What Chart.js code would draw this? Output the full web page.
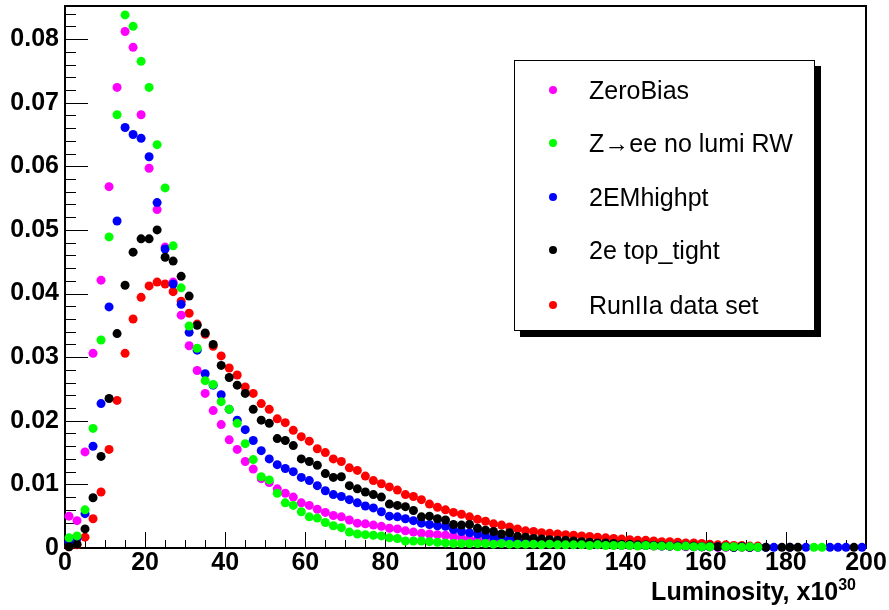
<!DOCTYPE html>
<html>
<head>
<meta charset="utf-8">
<script src="https://cdn.jsdelivr.net/npm/chart.js@4.4.1/dist/chart.umd.min.js"></script>
<style>
  body { margin: 0; background: #fff; }
  #wrap { position: relative; width: 889px; height: 610px; font-family: "Liberation Sans", Arial, sans-serif; }
  #legend { position: absolute; left: 514px; top: 60px; width: 299px; height: 269px; border: 1px solid #000; background: #fff; box-shadow: 6px 6px 0 #000; }
  .row { position: absolute; left: 0; height: 30px; line-height: 30px; font-size: 25px; color: #000; white-space: nowrap; }
  .row .dot { position: absolute; left: 34px; top: 11px; width: 8px; height: 8px; border-radius: 50%; }
  .row .txt { position: absolute; left: 74px; top: 0; }
  #xtitle { position: absolute; right: 33px; top: 579px; font-size: 25px; line-height: 25px; font-weight: bold; white-space: nowrap; }
  #xtitle span { font-size: 16px; position: relative; top: -10px; }
</style>
</head>
<body>
<div id="wrap">
  <canvas id="ctx" width="889" height="610"></canvas>
  <div id="legend"></div>
  <div id="xtitle">Luminosity, x10<span>30</span></div>
</div>
<script>

// bin centres (bins of width 2 from 0 to 200)
var binCenters = [1,3,5,7,9,11,13,15,17,19,21,23,25,27,29,31,33,35,37,39,
  41,43,45,47,49,51,53,55,57,59,61,63,65,67,69,71,73,75,77,79,
  81,83,85,87,89,91,93,95,97,99,101,103,105,107,109,111,113,115,117,119,
  121,123,125,127,129,131,133,135,137,139,141,143,145,147,149,151,153,155,157,159,
  161,163,165,167,169,171,173,175,177,179,181,183,185,187,189,191,193,195,197,199];

var zeroBias = [0.0050,0.0043,0.0151,0.0306,0.0421,0.0568,0.0724,0.0812,0.0787,0.0681,
  0.0597,0.0532,0.0473,0.0418,0.0366,0.0318,0.0279,0.0243,0.0216,0.0194,
  0.0170,0.0155,0.0136,0.0124,0.0109,0.0103,0.0093,0.0086,0.0080,0.0071,
  0.0067,0.0061,0.0056,0.0051,0.0049,0.0044,0.0039,0.0038,0.0036,0.0034,
  0.0031,0.0030,0.0027,0.0025,0.0023,0.0022,0.0021,0.0020,0.0018,0.0016,
  0.0014,0.0012,0.0011,0.0010,0.0009,0.0009,0.0008,0.0008,0.0007,0.0007,
  0.0007,0.0007,0.0006,0.0006,0.0006,0.0005,0.0005,0.0005,0.0005,0.0004,
  0.0004,0.0004,0.0004,0.0003,0.0003,0.0003,0.0003,0.0002,0.0002,0.0002,
  0.0002,0.0001,0.0001,0.0001,0.0001,0.0001,null,null,null,null,
  null,null,null,null,null,null,null,null,null,null];

var zee = [0.0016,0.0019,0.0060,0.0188,0.0327,0.0489,0.0681,0.0838,0.0820,0.0765,
  0.0724,0.0634,0.0566,0.0475,0.0409,0.0349,0.0314,0.0263,0.0257,0.0230,
  0.0218,0.0196,0.0164,0.0139,0.0112,0.0107,0.0086,0.0071,0.0067,0.0057,
  0.0049,0.0047,0.0040,0.0035,0.0032,0.0025,0.0022,0.0021,0.0020,0.0019,
  0.0016,0.0015,0.0011,0.0011,0.0011,0.0010,0.0009,0.0008,0.0007,0.0007,
  0.0007,0.0007,0.0007,0.0006,0.0007,0.0006,0.0006,0.0006,0.0006,0.0005,
  0.0006,0.0005,0.0005,0.0005,0.0005,0.0004,0.0005,0.0004,0.0004,0.0004,
  0.0004,0.0003,0.0004,0.0003,0.0003,0.0003,0.0002,0.0003,0.0002,0.0002,
  0.0002,null,0.0002,0.0002,0.0001,0.0002,0.0001,null,null,null,
  null,null,null,0.0001,0.0001,null,null,null,null,null];

var em2High = [0.0010,0.0015,0.0054,0.0160,0.0227,0.0379,0.0514,0.0661,0.0650,0.0644,
  0.0615,0.0543,0.0470,0.0415,0.0383,0.0339,0.0311,0.0274,0.0256,0.0241,
  0.0218,0.0201,0.0186,0.0169,0.0153,0.0140,0.0131,0.0125,0.0120,0.0111,
  0.0106,0.0098,0.0090,0.0084,0.0081,0.0076,0.0071,0.0066,0.0063,0.0057,
  0.0050,0.0049,0.0046,0.0043,0.0039,0.0037,0.0035,0.0034,0.0029,0.0026,
  0.0024,0.0022,0.0019,0.0017,0.0015,0.0014,0.0013,0.0012,0.0011,0.0010,
  0.0010,0.0009,0.0009,0.0008,0.0008,0.0007,0.0007,0.0006,0.0006,0.0005,
  0.0005,0.0004,0.0004,0.0004,0.0003,0.0003,0.0003,0.0003,0.0002,0.0002,
  0.0002,0.0002,0.0002,0.0001,0.0002,0.0001,0.0001,0.0001,0.0001,null,
  0.0001,null,0.0001,null,null,0.0001,0.0001,0.0001,null,0.0001];

var topTight = [0.0002,0.0006,0.0030,0.0079,0.0144,0.0235,0.0337,0.0413,0.0465,0.0486,
  0.0486,0.0500,0.0457,0.0451,0.0427,0.0396,0.0350,0.0338,0.0320,0.0287,
  0.0268,0.0256,0.0243,0.0218,0.0201,0.0196,0.0172,0.0169,0.0161,0.0140,
  0.0136,0.0130,0.0117,0.0111,0.0112,0.0098,0.0093,0.0088,0.0084,0.0080,
  0.0069,0.0067,0.0065,0.0059,0.0049,0.0050,0.0046,0.0044,0.0037,0.0036,
  0.0037,0.0031,0.0028,0.0026,0.0022,0.0024,0.0018,0.0017,0.0015,0.0014,
  0.0013,0.0012,0.0012,0.0011,0.0010,0.0009,0.0008,0.0008,0.0007,0.0006,
  0.0006,0.0005,0.0005,0.0004,0.0004,0.0003,0.0003,0.0003,0.0003,0.0002,
  0.0003,0.0002,0.0002,0.0001,0.0002,0.0001,null,0.0001,null,0.0001,
  0.0001,0.0001,null,null,null,null,null,null,0.0001,null];

var run2a = [0.0002,0.0005,0.0017,0.0046,0.0088,0.0155,0.0232,0.0306,0.0360,0.0394,
  0.0412,0.0418,0.0415,0.0403,0.0388,0.0369,0.0352,0.0336,0.0317,0.0302,
  0.0283,0.0272,0.0253,0.0243,0.0227,0.0218,0.0203,0.0197,0.0185,0.0175,
  0.0168,0.0156,0.0150,0.0140,0.0136,0.0126,0.0122,0.0113,0.0106,0.0101,
  0.0096,0.0091,0.0084,0.0081,0.0076,0.0069,0.0064,0.0060,0.0056,0.0053,
  0.0049,0.0045,0.0042,0.0038,0.0036,0.0033,0.0030,0.0027,0.0026,0.0024,
  0.0023,0.0022,0.0021,0.0020,0.0019,0.0018,0.0017,0.0016,0.0015,0.0014,
  0.0013,0.0012,0.0012,0.0011,0.0010,0.0010,0.0009,0.0008,0.0008,0.0007,
  0.0006,0.0005,0.0005,0.0004,0.0004,0.0003,0.0003,null,null,null,
  null,null,null,null,null,null,null,null,null,null];

var seriesNames  = ['ZeroBias', 'Z\u2192ee no lumi RW', '2EMhighpt', '2e top_tight', 'RunIIa data set'];
var seriesColors = ['#ff00ff', '#00ff00', '#0000ff', '#000000', '#ff0000'];
var seriesValues = [zeroBias, zee, em2High, topTight, run2a];
// which one ends up on top: lower = drawn later
var drawOrder    = [4, 1, 3, 2, 5];

function toPoints(vals){
  var pts = [];
  for (var i = 0; i < binCenters.length; i++){
    if (vals[i] !== null) pts.push({x: binCenters[i], y: vals[i]});
  }
  return pts;
}

var datasets = [];
for (var s = 0; s < seriesNames.length; s++){
  datasets.push({
    label: seriesNames[s],
    data: toPoints(seriesValues[s]),
    backgroundColor: seriesColors[s],
    borderColor: seriesColors[s],
    pointRadius: 4.5,
    pointBorderWidth: 0,
    pointHoverRadius: 4.5,
    showLine: false,
    clip: false,
    order: drawOrder[s]
  });
}

// legend box, ROOT style
var legendTops = [75, 128, 182, 235, 290];
for (var s = 0; s < seriesNames.length; s++){
  var row = document.createElement('div');
  row.className = 'row';
  row.style.top = (legendTops[s] - 60 - 1) + 'px';
  row.innerHTML = '<div class="dot" style="background:' + seriesColors[s] + '"></div><div class="txt">' + seriesNames[s] + '</div>';
  document.getElementById('legend').appendChild(row);
}

// frame + inward ticks
var rootFrame = {
  id: 'rootFrame',
  beforeDatasetsDraw: function(chart){
    var ctx = chart.ctx, a = chart.chartArea;
    var xs = chart.scales.x, ys = chart.scales.y;
    ctx.save();
    ctx.strokeStyle = '#000';
    ctx.lineWidth = 2;
    ctx.strokeRect(a.left, a.top, a.right - a.left, a.bottom - a.top);
    ctx.lineWidth = 1;
    ctx.beginPath();
    xs.ticks.forEach(function(t){
      var px = Math.round(xs.getPixelForValue(t.value)) + 0.5;
      var len = t.label ? 16 : 8;
      ctx.moveTo(px, a.bottom);
      ctx.lineTo(px, a.bottom - len);
    });
    ys.ticks.forEach(function(t){
      var py = Math.round(ys.getPixelForValue(t.value)) + 0.5;
      var len = t.label ? 23 : 11;
      ctx.moveTo(a.left, py);
      ctx.lineTo(a.left + len, py);
    });
    ctx.stroke();
    ctx.restore();
  }
};

var tickFont = {family: 'Liberation Sans', size: 25, weight: 'bold'};

var lumiChart = new Chart(document.getElementById('ctx'), {
  type: 'scatter',
  data: { datasets: datasets },
  options: {
    responsive: false,
    animation: false,
    layout: { padding: { top: 6, right: 23, left: 0, bottom: 0 } },
    plugins: { legend: { display: false }, tooltip: { enabled: false } },
    scales: {
      x: {
        type: 'linear', min: 0, max: 200,
        grid: { display: false, drawTicks: false },
        border: { display: false },
        ticks: {
          stepSize: 5, autoSkip: false, maxTicksLimit: 1000, includeBounds: false,
          maxRotation: 0, padding: 0, color: '#000', font: tickFont,
          callback: function(v){ return (v % 20 === 0) ? String(v) : ''; }
        },
        afterFit: function(scale){
          scale.height = 62;
          scale.paddingLeft = 0; scale.paddingRight = 0;
        }
      },
      y: {
        type: 'linear', min: 0, max: 0.0852,
        grid: { display: false, drawTicks: false },
        border: { display: false },
        ticks: {
          stepSize: 0.002, autoSkip: false, maxTicksLimit: 1000, includeBounds: false,
          padding: 6, color: '#000', font: tickFont,
          callback: function(v){
            var k = v / 0.01;
            if (Math.abs(k - Math.round(k)) > 1e-6) return '';
            return v === 0 ? '0' : (Math.round(k) / 100).toFixed(2);
          }
        },
        afterFit: function(scale){
          scale.width = 65;
          scale.paddingTop = 0; scale.paddingBottom = 0;
        }
      }
    }
  },
  plugins: [rootFrame]
});

</script>
</body>
</html>
